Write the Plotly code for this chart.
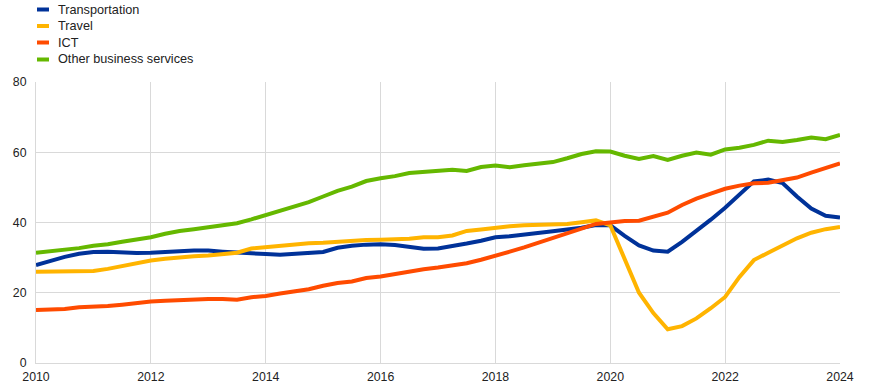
import plotly.graph_objects as go

# Quarterly observations, 2010 Q1 - 2024 Q1
start_year = 2010
n_quarters = 57
quarters = [start_year + i / 4 for i in range(n_quarters)]

transportation = [27.9, 29.2, 30.2, 31.1, 31.6, 31.7, 31.4, 31.3, 31.4, 31.5,
                  31.8, 32.0, 32.0, 31.7, 31.4, 31.3, 31.0, 30.8, 31.0, 31.3,
                  31.6, 32.8, 33.4, 33.7, 33.8, 33.6, 33.0, 32.5, 32.6, 33.2,
                  34.0, 34.8, 35.8, 36.1, 36.5, 37.0, 37.5, 38.0, 38.5, 39.3,
                  39.2, 36.2, 33.5, 32.0, 31.7, 34.5, 37.5, 40.8, 44.2, 48.0,
                  51.7, 52.2, 51.2, 47.4, 44.0, 41.9, 41.4]
travel = [26.0, 26.0, 26.2, 26.2, 26.2, 26.8, 27.6, 28.4, 29.2, 29.7,
          30.1, 30.4, 30.6, 31.0, 31.4, 32.6, 33.0, 33.3, 33.6, 34.1,
          34.2, 34.5, 34.8, 35.0, 35.1, 35.2, 35.4, 35.8, 35.8, 36.3,
          37.6, 38.0, 38.5, 38.9, 39.2, 39.4, 39.5, 39.6, 40.1, 40.6,
          39.2, 29.5, 20.0, 14.2, 9.6, 10.5, 12.7, 15.6, 18.8, 24.5,
          29.3, 31.4, 33.4, 35.5, 37.1, 38.1, 38.7]
ict = [15.1, 15.3, 15.4, 15.9, 16.0, 16.2, 16.6, 17.1, 17.5, 17.7,
       17.9, 18.0, 18.2, 18.2, 18.0, 18.7, 19.1, 19.8, 20.5, 21.0,
       22.0, 22.8, 23.2, 24.2, 24.6, 25.3, 26.1, 26.7, 27.2, 27.8,
       28.4, 29.4, 30.7, 31.7, 32.9, 34.2, 35.5, 36.9, 38.3, 39.6,
       40.0, 40.4, 40.5, 41.8, 42.8, 45.0, 46.8, 48.2, 49.6, 50.5,
       51.2, 51.3, 52.0, 52.8, 54.2, 55.5, 56.8]
other_business = [31.4, 31.8, 32.3, 32.7, 33.4, 33.8, 34.5, 35.1, 35.8, 36.8,
                  37.6, 38.1, 38.7, 39.3, 39.8, 40.9, 42.1, 43.3, 44.5, 45.8,
                  47.4, 49.0, 50.2, 51.8, 52.6, 53.2, 54.1, 54.4, 54.5, 55.0,
                  54.7, 55.8, 56.2, 55.7, 56.3, 56.7, 57.2, 58.3, 59.5, 60.3,
                  60.2, 59.0, 58.1, 58.9, 57.8, 59.0, 59.9, 59.3, 60.8, 61.3,
                  62.1, 63.3, 62.9, 63.5, 64.2, 63.7, 64.9]

series_names = ["Transportation", "Travel", "ICT", "Other business services"]
series_values = [transportation, travel, ict, other_business]
series_colors = ["#003299", "#FFB400", "#FF4B00", "#65B800"]

x_tickvals = [2010, 2012, 2014, 2016, 2018, 2020, 2022, 2024]
y_tickvals = [0, 20, 40, 60, 80]

W, H = 873, 388
ML, MR, MT, MB = 36, 33, 82, 25
PW, PH = W - ML - MR, H - MT - MB

fig = go.Figure()
for name, vals, col in zip(series_names, series_values, series_colors):
    fig.add_trace(go.Scatter(x=quarters, y=vals, name=name, mode="lines",
                             line=dict(color=col, width=4), showlegend=False))

# custom legend (pixel positions converted to paper coords)
def px(xp):
    return (xp - ML) / PW

def py(yp):
    return (H - MB - yp) / PH

legend_rows = [9.5, 26.0, 42.5, 59.5]
shapes = []
annotations = []
for name, col, yy in zip(series_names, series_colors, legend_rows):
    shapes.append(dict(type="line", xref="paper", yref="paper",
                       x0=px(37), x1=px(49), y0=py(yy), y1=py(yy),
                       line=dict(color=col, width=4)))
    annotations.append(dict(xref="paper", yref="paper", x=px(56), y=py(yy),
                            text=name, showarrow=False, xanchor="left",
                            yanchor="middle",
                            font=dict(family="Liberation Sans, Arial", size=12.7, color="#222222")))

fig.update_layout(
    width=W, height=H,
    margin=dict(l=ML, r=MR, t=MT, b=MB, pad=0, autoexpand=False),
    paper_bgcolor="white", plot_bgcolor="white",
    shapes=shapes, annotations=annotations,
    font=dict(family="Liberation Sans, Arial", size=12, color="#222222"),
    xaxis=dict(range=[2010, 2024], tickvals=x_tickvals,
               ticktext=[str(v) for v in x_tickvals], automargin=False,
               showgrid=True, gridcolor="#d9d9d9", gridwidth=1,
               showline=True, linecolor="#d9d9d9", linewidth=1,
               zeroline=False, ticks="", ticklabelstandoff=2,
               tickfont=dict(size=12.3, color="#222222")),
    yaxis=dict(range=[0, 80], tickvals=y_tickvals, automargin=False,
               showgrid=True, gridcolor="#d9d9d9", gridwidth=1,
               showline=True, linecolor="#d9d9d9", linewidth=1,
               zeroline=False, ticks="", ticklabelstandoff=6,
               tickfont=dict(size=12.3, color="#222222")),
)

fig.write_html("out.html", config={"displayModeBar": False},
               post_script="document.body.style.margin='0';document.body.style.overflow='hidden';")
